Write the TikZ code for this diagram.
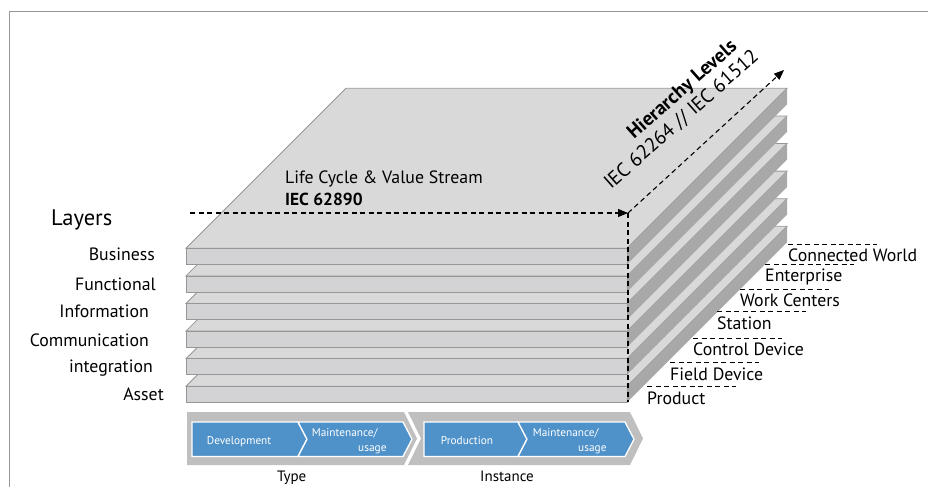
\documentclass[tikz,border=0pt]{standalone}
\usepackage{fontspec}
\setmainfont{PT Sans}
\usetikzlibrary{arrows.meta,calc}

\definecolor{slabtop}{RGB}{217,217,217}
\definecolor{slabfront}{RGB}{211,211,213}
\definecolor{slabside}{RGB}{168,168,168}
\definecolor{slabedge}{RGB}{150,150,150}
\definecolor{phasegray}{RGB}{191,191,191}
\definecolor{phaseblue}{RGB}{79,146,202}
\definecolor{framegray}{RGB}{150,150,150}

\tikzset{
  guide/.style={dashed, dash pattern=on 5pt off 3.5pt, line width=1.1pt, black},
  guidearrow/.style={guide, -{Triangle[length=10pt,width=8pt]}},
  lbl/.style={inner sep=0pt, font=\fontsize{17.8}{20}\selectfont},
  layerlbl/.style={lbl, anchor=base east},
  levellbl/.style={lbl, anchor=base west},
  axislbl/.style={inner sep=0pt, anchor=base west, rotate=41.5},
  phasetxt/.style={inner sep=0pt, text=white, font=\fontsize{11.3}{13}\selectfont},
  phaseband/.style={fill=phasegray},
  phasebox/.style={fill=phaseblue, draw=white, line width=1.3pt},
}

\begin{document}
\begin{tikzpicture}[x=1pt,y=-1pt]
\useasboundingbox (0,0) rectangle (928,487);

% outer frame
\draw[framegray, line width=1pt] (928,12) -- (9,12) -- (9,487);

% stack of six layer slabs, drawn from the bottom one upwards
\foreach \i in {5,4,...,0}{
  \pgfmathsetmacro\yt{248.3+27.6*\i}
  \filldraw[fill=slabtop, draw=slabedge, line width=0.8pt]
    (186,\yt) -- (346,\yt-160) -- (787,\yt-160) -- (627,\yt) -- cycle;
  \fill[slabside]
    (627,\yt) -- (787,\yt-160) -- (787,\yt-144) -- (627,\yt+16) -- cycle;
  \filldraw[fill=slabfront, draw=slabedge, line width=0.8pt]
    (186,\yt) rectangle (627,\yt+16);
}

% axes of the model
\coordinate (lcstart) at (190,213);
\coordinate (corner) at (628,213);
\coordinate (cornerlow) at (628,402);
\coordinate (hltip) at (784,70);
\draw[guidearrow] (lcstart) -- (corner);
\draw[guide] (corner) -- (cornerlow);
\draw[guidearrow] (corner) -- (hltip);

\node[inner sep=0pt, anchor=base west, font=\fontsize{17.8}{20}\selectfont] (lc) at (285,183.3) {Life Cycle \& Value Stream};
\node[inner sep=0pt, anchor=base west, font=\bfseries\fontsize{17.4}{20}\selectfont] (lcstd) at (285,205) {IEC 62890};

\node[axislbl, font=\bfseries\fontsize{19.8}{22}\selectfont] (hl) at (634,140) {Hierarchy Levels};
\node[axislbl, font=\fontsize{19.8}{22}\selectfont] (hlstd) at (611,190) {IEC 62264 // IEC 61512};

% layer names
\node[inner sep=0pt, anchor=base west, font=\fontsize{22.5}{26}\selectfont] (layers) at (51,225) {Layers};
\node[layerlbl] (business) at (155,260) {Business};
\node[layerlbl] (functional) at (156,290) {Functional};
\node[layerlbl] (information) at (149,317.7) {Information};
\node[layerlbl] (communication) at (149,346) {Communication};
\node[layerlbl] (integration) at (153,372.7) {integration};
\node[layerlbl] (asset) at (164,400.7) {Asset};

% hierarchy level names with their dashed markers
\foreach \name/\txt/\x/\y in {
  cw/Connected World/788/244,
  ent/Enterprise/765/264.3,
  wc/Work Centers/740/289.3,
  sta/Station/717/311.7,
  cd/Control Device/693/338.3,
  fd/Field Device/670/362.7,
  prod/Product/647/386.7}{
  \coordinate (\name a) at (\x,\y);
  \coordinate (\name b) at (\x+89,\y);
  \draw[guide, line width=0.9pt] (\name a) -- (\name b);
  \node[levellbl] (\name) at (\x,\y+17.5) {\txt};
}

% life cycle phases
\fill[phaseband] (187,412) -- (404,412) -- (417,438.5) -- (404,465) -- (187,465) -- cycle;
\fill[phaseband] (408,412) -- (630,412) -- (643,438.5) -- (630,465) -- (408,465) -- (421,438.5) -- cycle;

\filldraw[phasebox] (192,422) -- (298,422) -- (307,439.2) -- (298,456.5) -- (192,456.5) -- cycle;
\filldraw[phasebox] (298,422) -- (403,422) -- (412,439.2) -- (403,456.5) -- (298,456.5) -- (307,439.2) -- cycle;
\filldraw[phasebox] (424,422) -- (518,422) -- (527,439.2) -- (518,456.5) -- (424,456.5) -- cycle;
\filldraw[phasebox] (518,422) -- (625,422) -- (634,439.2) -- (625,456.5) -- (518,456.5) -- (527,439.2) -- cycle;

\node[phasetxt, anchor=base west] (dev) at (206.7,444) {Development};
\node[phasetxt, anchor=base west] (mt1) at (311.7,436.7) {Maintenance/};
\node[phasetxt, anchor=base east] (us1) at (386.7,451.7) {usage};
\node[phasetxt, anchor=base west] (pr) at (440.7,444) {Production};
\node[phasetxt, anchor=base west] (mt2) at (532.7,436.7) {Maintenance/};
\node[phasetxt, anchor=base east] (us2) at (606.7,451.7) {usage};

\node[inner sep=0pt, anchor=base, font=\fontsize{15}{17}\selectfont] (type) at (291.7,481.7) {Type};
\node[inner sep=0pt, anchor=base, font=\fontsize{15}{17}\selectfont] (inst) at (507,481.7) {Instance};
\end{tikzpicture}
\end{document}
